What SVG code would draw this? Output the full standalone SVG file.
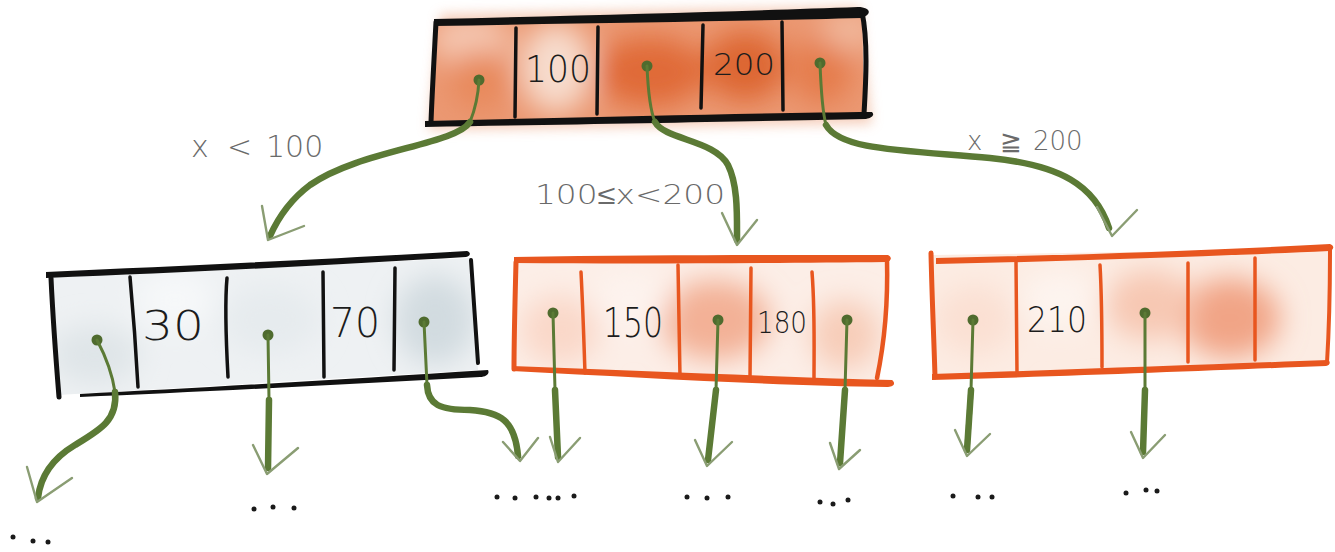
<svg xmlns="http://www.w3.org/2000/svg" width="1335" height="552" viewBox="0 0 1335 552">
<style>
.ink{fill:#111}
.inkl{fill:none;stroke:#111;stroke-linecap:round}
.org{fill:#e8561f}
.orgl{fill:none;stroke:#e8561f;stroke-linecap:round}
.num{font-family:"DejaVu Sans","Liberation Sans",Arial,sans-serif;font-weight:200;fill:#1c1c1c;text-anchor:middle}
.lbl{font-family:"DejaVu Sans","Liberation Sans",Arial,sans-serif;font-weight:200;fill:#6a6a6a}
.thin{fill:none;stroke:#5b7a35;stroke-width:3;stroke-linecap:round}
.thick{fill:none;stroke:#5b7a35;stroke-width:6.5;stroke-linecap:round}
.head{fill:none;stroke:#8a9d73;stroke-width:2.4;stroke-linecap:round;stroke-linejoin:round}
.pt{fill:#4f6b2e}
.dot{fill:#1a1a1a}
</style>
<defs>
<filter id="soft" x="-50%" y="-50%" width="200%" height="200%"><feGaussianBlur stdDeviation="14"/></filter>
<filter id="haze" x="-20%" y="-50%" width="140%" height="200%"><feGaussianBlur stdDeviation="6"/></filter>
<clipPath id="cTop"><polygon points="436,22 862,12 864,115 432,121"/></clipPath>
<clipPath id="cLeft"><polygon points="52,277 470,258 478,370 58,395"/></clipPath>
<clipPath id="cMid"><polygon points="516,262 887,260 880,380 514,368"/></clipPath>
<clipPath id="cRight"><polygon points="932,255 1330,249 1327,363 935,377"/></clipPath>
</defs>
<rect width="1335" height="552" fill="#ffffff"/>

<g id="node-root">
<polygon points="440,14 860,6 872,124 428,130" fill="#f3c3ab" filter="url(#haze)" opacity="0.8"/>
<g clip-path="url(#cTop)">
<rect x="420" y="0" width="460" height="130" fill="#eb9872"/>
<g filter="url(#soft)">
<ellipse cx="470" cy="40" rx="40" ry="25" fill="#f5c8b2"/>
<ellipse cx="480" cy="80" rx="30" ry="30" fill="#e8895c"/>
<ellipse cx="556" cy="68" rx="36" ry="45" fill="#f7dccd"/>
<ellipse cx="650" cy="72" rx="55" ry="35" fill="#e06a37"/>
<ellipse cx="745" cy="66" rx="40" ry="35" fill="#dd6631"/>
<ellipse cx="822" cy="70" rx="30" ry="35" fill="#e57c4b"/>
<ellipse cx="850" cy="30" rx="30" ry="20" fill="#f1b89c"/>
</g>
</g>
<path class="ink" d="M434,19 C600,15 750,11 858,7 C870,7 873,14 862,18 C750,21 600,23 434,26 Z"/>
<path class="inkl" stroke-width="5" d="M862,12 C868,40 866,80 864,114"/>
<path class="inkl" stroke-width="5" d="M436,22 C434,60 432,95 431,122"/>
<path class="ink" d="M425,121 C600,117 760,113 872,112 C875,115 872,118 866,119 C760,121 600,124 425,127 Z"/>
<path class="inkl" stroke-width="3.5" d="M516,28 L515,117"/>
<path class="inkl" stroke-width="3.5" d="M598,27 L597,114"/>
<path class="inkl" stroke-width="3.5" d="M703,25 L701,108"/>
<path class="inkl" stroke-width="3.5" d="M782,22 L783,110"/>
<text class="num" x="558" y="82" font-size="37" textLength="66" lengthAdjust="spacingAndGlyphs">100</text>
<text class="num" x="744" y="75" font-size="31" textLength="62" lengthAdjust="spacingAndGlyphs">200</text>
<circle class="pt" cx="479" cy="80" r="5.5"/>
<circle class="pt" cx="647" cy="66" r="5.5"/>
<circle class="pt" cx="820" cy="63" r="5.5"/>
</g>

<g id="node-left">
<g clip-path="url(#cLeft)">
<rect x="40" y="250" width="450" height="150" fill="#eef1f3"/>
<g filter="url(#soft)">
<ellipse cx="95" cy="355" rx="45" ry="30" fill="#dfe5e8"/>
<ellipse cx="270" cy="320" rx="50" ry="35" fill="#e6ebee"/>
<ellipse cx="435" cy="320" rx="40" ry="45" fill="#d2dbe0"/>
<ellipse cx="175" cy="300" rx="40" ry="30" fill="#f6f8f9"/>
</g>
</g>
<path class="ink" d="M46,272 C200,265 350,258 467,251 C471,252 471,256 466,257 C350,264 200,272 46,278 Z"/>
<path class="inkl" stroke-width="5" d="M51,278 C53,320 56,360 59,397"/>
<path class="inkl" stroke-width="4" d="M471,260 C474,300 476,335 478,363"/>
<path class="ink" d="M80,394 C200,388 350,379 488,370 C490,374 486,377 480,377 C350,384 200,392 80,397 Z"/>
<path class="inkl" stroke-width="3.5" d="M130,277 C133,310 136,350 138,387"/>
<path class="inkl" stroke-width="3.5" d="M227,278 C225,300 226,340 228,377"/>
<path class="inkl" stroke-width="3.5" d="M323,272 L324,377"/>
<path class="inkl" stroke-width="3.5" d="M395,268 L394,370"/>
<text class="num" x="173" y="340" font-size="40" textLength="62" lengthAdjust="spacingAndGlyphs">30</text>
<text class="num" x="355" y="337" font-size="40" textLength="50" lengthAdjust="spacingAndGlyphs">70</text>
<circle class="pt" cx="97" cy="340" r="5.5"/>
<circle class="pt" cx="268" cy="335" r="5.5"/>
<circle class="pt" cx="424" cy="322" r="5.5"/>
</g>

<g id="node-mid">
<g clip-path="url(#cMid)">
<rect x="505" y="250" width="390" height="140" fill="#fceee7"/>
<g filter="url(#soft)">
<ellipse cx="715" cy="320" rx="55" ry="40" fill="#f3b196"/>
<ellipse cx="560" cy="330" rx="40" ry="35" fill="#fad8c9"/>
<ellipse cx="845" cy="335" rx="35" ry="35" fill="#f7cdb9"/>
<ellipse cx="630" cy="300" rx="40" ry="30" fill="#fdf3ee"/>
</g>
</g>
<path class="org" d="M514,257 C650,255 780,255 888,255 C892,257 892,261 886,262 C780,263 650,264 514,263 Z"/>
<path class="orgl" stroke-width="5" d="M516,262 C515,300 514,340 514,369"/>
<path class="orgl" stroke-width="4.5" d="M887,259 C888,300 884,345 877,378"/>
<path class="org" d="M512,366 C650,371 780,377 892,380 C896,383 894,387 888,387 C780,386 650,378 512,371 Z"/>
<path class="orgl" stroke-width="3.5" d="M581,272 C583,310 584,345 585,373"/>
<path class="orgl" stroke-width="3.5" d="M678,265 L680,377"/>
<path class="orgl" stroke-width="3.5" d="M751,268 L750,378"/>
<path class="orgl" stroke-width="3.5" d="M812,272 C815,310 814,350 814,380"/>
<text class="num" x="633" y="337" font-size="40" textLength="60" lengthAdjust="spacingAndGlyphs">150</text>
<text class="num" x="782" y="333" font-size="30" textLength="50" lengthAdjust="spacingAndGlyphs">180</text>
<circle class="pt" cx="553" cy="313" r="5.5"/>
<circle class="pt" cx="718" cy="320" r="5.5"/>
<circle class="pt" cx="847" cy="320" r="5.5"/>
</g>

<g id="node-right">
<g clip-path="url(#cRight)">
<rect x="925" y="240" width="410" height="145" fill="#fcece3"/>
<g filter="url(#soft)">
<ellipse cx="1230" cy="318" rx="50" ry="40" fill="#f1a486"/>
<ellipse cx="1150" cy="305" rx="45" ry="35" fill="#f7c8b3"/>
<ellipse cx="975" cy="320" rx="40" ry="35" fill="#fbe0d3"/>
<ellipse cx="1060" cy="300" rx="40" ry="30" fill="#fdf4ef"/>
</g>
</g>
<path class="org" d="M936,258 C1080,255 1220,250 1330,244 C1335,246 1334,250 1329,251 C1220,256 1080,261 936,264 Z"/>
<path class="orgl" stroke-width="5" d="M931,253 C932,300 934,340 935,377"/>
<path class="orgl" stroke-width="4" d="M1330,250 C1330,290 1329,330 1327,363"/>
<path class="org" d="M932,374 C1080,369 1220,364 1328,360 C1331,362 1330,365 1326,366 C1220,370 1080,376 932,380 Z"/>
<path class="orgl" stroke-width="3.5" d="M1016,262 L1017,374"/>
<path class="orgl" stroke-width="3.5" d="M1100,265 C1102,300 1102,340 1102,367"/>
<path class="orgl" stroke-width="3.5" d="M1188,263 L1188,362"/>
<path class="orgl" stroke-width="3.5" d="M1255,258 L1255,360"/>
<text class="num" x="1057" y="332" font-size="36" textLength="60" lengthAdjust="spacingAndGlyphs">210</text>
<circle class="pt" cx="973" cy="320" r="5.5"/>
<circle class="pt" cx="1145" cy="313" r="5.5"/>
</g>

<g id="connectors">
<path class="thin" d="M479,80 C478,100 474,112 470,122"/>
<path class="thick" stroke-width="7.5" d="M470,122 C455,145 360,150 310,185 C290,200 278,218 270,236"/>
<path class="head" d="M262,206 L268,240 L304,226"/>

<path class="thin" d="M647,66 C648,90 650,110 655,122"/>
<path class="thick" stroke-width="7" d="M655,122 C665,140 715,140 728,165 C738,185 737,215 737,240"/>
<path class="head" d="M722,213 L737,245 L757,220"/>

<path class="thin" d="M820,63 C821,90 822,110 826,125"/>
<path class="thick" stroke-width="8" d="M826,125 C840,150 900,150 990,158 C1060,165 1095,185 1109,228"/>
<path class="head" d="M1097,207 L1112,236 L1137,210"/>

<path class="thin" d="M97,340 C105,355 112,372 115,392"/>
<path class="thick" d="M115,392 C118,420 100,430 75,445 C50,460 40,480 38,498"/>
<path class="head" d="M27,467 L37,502 L72,478"/>

<path class="thin" d="M268,335 L269,400"/>
<path class="thick" d="M269,400 L268,468"/>
<path class="head" d="M253,445 L267,474 L298,448"/>

<path class="thin" d="M424,322 L427,385"/>
<path class="thick" d="M427,385 C428,405 440,410 470,410 C500,412 515,420 518,456"/>
<path class="head" d="M503,442 L520,461 L538,438"/>

<path class="thin" d="M553,313 L555,390"/>
<path class="thick" d="M555,390 L558,457"/>
<path class="head" d="M550,437 L558,462 L580,438"/>

<path class="thin" d="M718,320 L716,390"/>
<path class="thick" d="M716,390 L708,460"/>
<path class="head" d="M695,440 L707,466 L732,442"/>

<path class="thin" d="M847,320 L845,390"/>
<path class="thick" d="M845,390 L840,463"/>
<path class="head" d="M830,443 L839,469 L860,450"/>

<path class="thin" d="M973,320 L971,390"/>
<path class="thick" d="M971,390 L967,450"/>
<path class="head" d="M955,430 L967,456 L990,434"/>

<path class="thin" d="M1145,313 L1145,390"/>
<path class="thick" d="M1145,390 L1143,452"/>
<path class="head" d="M1131,432 L1143,458 L1165,435"/>
</g>

<g id="labels">
<text class="lbl" font-size="30" y="157"><tspan x="191">x</tspan><tspan x="227">&lt;</tspan><tspan x="266">100</tspan></text>
<text class="lbl" x="535" y="204" font-size="27" textLength="190" lengthAdjust="spacingAndGlyphs">100≤x&lt;200</text>
<text class="lbl" font-size="26" y="150"><tspan x="967">x</tspan><tspan x="1000">≧</tspan><tspan x="1033">200</tspan></text>
</g>

<g id="leaves">
<circle class="dot" cx="13" cy="537" r="2.5"/><circle class="dot" cx="33" cy="541" r="2.5"/><circle class="dot" cx="48" cy="542" r="2.5"/>
<circle class="dot" cx="254" cy="509" r="2.5"/><circle class="dot" cx="273" cy="507" r="2.5"/><circle class="dot" cx="294" cy="508" r="2.5"/>
<circle class="dot" cx="497" cy="497" r="2.5"/><circle class="dot" cx="515" cy="498" r="2.5"/><circle class="dot" cx="536" cy="497" r="2.5"/><circle class="dot" cx="549" cy="498" r="2.5"/><circle class="dot" cx="558" cy="498" r="2.5"/><circle class="dot" cx="574" cy="496" r="2.5"/>
<circle class="dot" cx="687" cy="497" r="2.5"/><circle class="dot" cx="707" cy="498" r="2.5"/><circle class="dot" cx="728" cy="497" r="2.5"/>
<circle class="dot" cx="820" cy="502" r="2.5"/><circle class="dot" cx="833" cy="504" r="2.5"/><circle class="dot" cx="848" cy="500" r="2.5"/>
<circle class="dot" cx="953" cy="496" r="2.5"/><circle class="dot" cx="978" cy="497" r="2.5"/><circle class="dot" cx="992" cy="497" r="2.5"/>
<circle class="dot" cx="1126" cy="493" r="2.5"/><circle class="dot" cx="1146" cy="490" r="2.5"/><circle class="dot" cx="1157" cy="491" r="2.5"/>
</g>
</svg>
